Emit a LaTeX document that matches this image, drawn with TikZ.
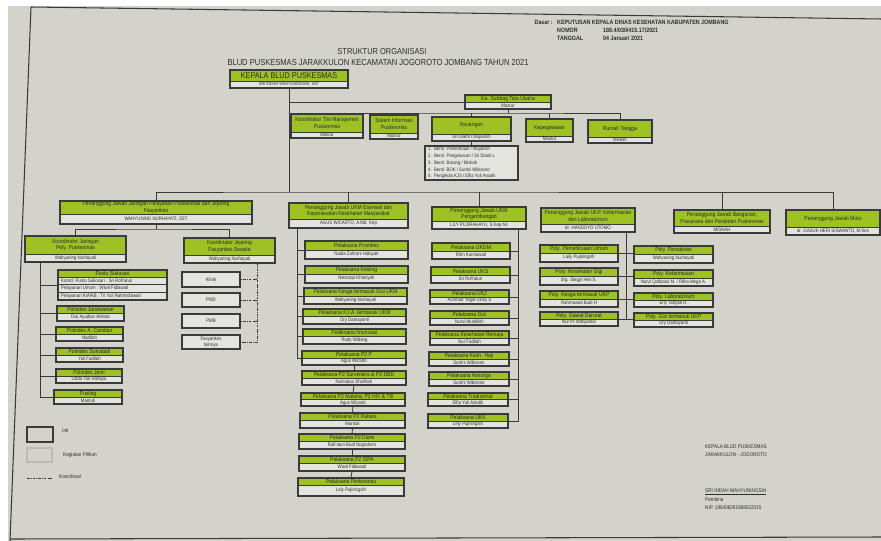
\documentclass[tikz,border=0pt]{standalone}
\usepackage{fontspec}
\setmainfont{Liberation Sans}[FakeStretch=0.86]
\usetikzlibrary{positioning}

\definecolor{paper}{RGB}{211,211,204}
\definecolor{headgreen}{RGB}{158,194,36}
\definecolor{bodywhite}{RGB}{228,228,222}
\definecolor{boxline}{RGB}{58,58,58}
\definecolor{ink}{RGB}{45,45,45}

\tikzset{
  boxframe/.style={draw=boxline, line width=0.9pt, inner sep=0pt, outer sep=0pt},
  headtext/.style={font=\fontsize{5}{5.6}\selectfont, text=ink, align=center, inner sep=0pt},
  bodytext/.style={font=\fontsize{4.3}{5}\selectfont, text=ink, align=center, inner sep=0pt},
  link/.style={draw=boxline, line width=0.7pt},
  koord/.style={draw=boxline, line width=0.7pt, dash pattern=on 2.2pt off 1pt on 0.6pt off 1pt},
  hdrtext/.style={font=\fontsize{5.3}{5.6}\selectfont\bfseries, text=ink, inner sep=0pt, anchor=west},
  signtext/.style={font=\fontsize{4.6}{5}\selectfont, text=ink, inner sep=0pt, anchor=west}
}

% box with green head and white name row
\newcommand{\orgbox}[8]{%
  \fill[bodywhite] (#2,#3) rectangle (#4,#5);
  \fill[headgreen] (#2,#3) rectangle (#4,#6);
  \draw[boxline, line width=0.5pt] (#2,#6) -- (#4,#6);
  \node[boxframe, minimum width={(#4-#2)*0.03cm}, minimum height={(#5-#3)*0.03cm}] (#1) at ({(#2+#4)/2},{(#3+#5)/2}) {};
  \node[headtext] (#1-head) at ({(#2+#4)/2},{(#3+#6)/2}) {#7};
  \node[bodytext] (#1-name) at ({(#2+#4)/2},{(#6+#5)/2}) {#8};
}
% plain white box
\newcommand{\plainbox}[6]{%
  \node[boxframe, fill=bodywhite, minimum width={(#4-#2)*0.03cm}, minimum height={(#5-#3)*0.03cm}, font=\fontsize{4.3}{5}\selectfont, text=ink, align=center] (#1) at ({(#2+#4)/2},{(#3+#5)/2}) {#6};
}

\begin{document}
\begin{tikzpicture}[x=0.03cm, y=-0.03cm]
\useasboundingbox (0,0) rectangle (881,541);
\fill[white] (0,0) rectangle (881,541);
\fill[paper] (8,6) rectangle (881,541);
\draw[boxline, line width=0.9pt] (31,7) -- (10,541); % sheet frame
\draw[boxline, line width=0.9pt] (31,7) -- (881,19);
\draw[boxline, line width=0.9pt] (10,539) -- (881,537);

% header
\node[hdrtext, anchor=east] (dasar) at (553,22) {Dasar :};
\node[hdrtext] (keputusan) at (557,22) {KEPUTUSAN KEPALA DINAS KESEHATAN KABUPATEN JOMBANG};
\node[hdrtext] (nomor) at (557,30) {NOMOR};
\node[hdrtext] (nomorval) at (603,30) {188.4/030/415.17/2021};
\node[hdrtext] (tanggal) at (557,38) {TANGGAL};
\node[hdrtext] (tanggalval) at (603,38) {04 Januari 2021};
\node[font=\fontsize{7.4}{8}\selectfont, text=ink, inner sep=0pt] (title) at (382,52) {STRUKTUR ORGANISASI};
\node[font=\fontsize{7.5}{8}\selectfont, text=ink, inner sep=0pt] (subtitle) at (378,62) {BLUD PUSKESMAS JARAKKULON KECAMATAN JOGOROTO JOMBANG TAHUN 2021};

% top level
\orgbox{kepala}{230}{70}{348}{88}{81}{\fontsize{7.2}{8}\selectfont KEPALA BLUD PUSKESMAS}{\fontsize{3.8}{4}\selectfont SRI INDAH WAHYUNINGSIH, SST}
\orgbox{tu}{465}{95}{551}{109}{102}{Ka. Subbag Tata Usaha}{Masrur}
\orgbox{tim}{291}{114}{363}{138}{132}{Koordinator Tim Manajemen\\Puskesmas}{Masrur}
\orgbox{sip}{370}{115}{418}{139}{133}{Sistem Informasi\\Puskesmas}{Masrur}
\orgbox{keu}{432}{117}{511}{141}{134}{Keuangan}{Sri Dianti / Mujiarsih}
\orgbox{peg}{526}{119}{573}{142}{136}{Kepegawaian}{Masrur}
\orgbox{rt}{588}{120}{652}{143}{137}{Rumah Tangga}{Mistiah}
\plainbox{bend}{425}{146}{518}{180}{}
\node[font=\fontsize{4.2}{5.8}\selectfont, text=ink, align=left, inner sep=0pt, anchor=west] (bendlist) at (428,163) {1.\ \ Bend. Penerimaan / Mujiarsih\\2.\ \ Bend. Pengeluaran / Sri Dianti L\\3.\ \ Bend. Barang / Mistiah\\4.\ \ Bend. BOK / Surtini Wibisono\\5.\ \ Pengelola KJS / Elfia Yuli Astutik};
\coordinate (l2bus) at (289,192);
\draw[link] (kepala.south) -- (l2bus); % main line
\draw[link] (kepala.south |- tu.west) -- (tu.west);
\draw[link] (tu.south) -- ++(0,4) coordinate (tubus);
\draw[link] (tim.north) |- (tubus) -| (rt.north);
\draw[link] (sip.north) -- (sip.north |- tubus);
\draw[link] (keu.north) -- (keu.north |- tubus);
\draw[link] (peg.north) -- (peg.north |- tubus);
\draw[link] (keu.south) -- (bend.north);

% second level
\orgbox{pj1}{60}{201}{252}{224}{214}{Penanggung Jawab Jaringan Pelayanan Puskesmas dan Jejaring\\Fasyankes}{WAHYUNING NURHAYATI, SST}
\orgbox{pj2}{289}{203}{408}{228}{219}{Penanggung Jawab UKM Esensial dan\\Keperawatan Kesehatan Masyarakat}{AGUS WICARTO, A.Md. Kep}
\orgbox{pj3}{432}{207}{526}{229}{221}{Penanggung Jawab UKM\\Pengembangan}{LILY PUJIRAHAYU, S.Kep.Ns}
\orgbox{pj4}{541}{208}{635}{232}{224}{Penanggung Jawab UKP, Kefarmasian\\dan Laboratorium}{dr. HANDOYO UTOMO}
\orgbox{pj5}{674}{210}{770}{233}{226}{Penanggung Jawab Bangunan,\\Prasarana dan Peralatan Puskesmas}{MISNAH}
\orgbox{pj6}{786}{210}{880}{235}{227}{Penanggung Jawab Mutu}{dr. GASUK HERI SISWANTO, M.Kes}
\draw[link] (pj1.north) |- (l2bus) -| (pj6.north);
\draw[link] (pj2.north) -- (pj2.north |- l2bus);
\draw[link] (pj3.north) -- (pj3.north |- l2bus);
\draw[link] (pj5.north) -- (pj5.north |- l2bus);

% jaringan dan jejaring
\orgbox{kjar}{25}{236}{126}{262}{254}{Koordinator Jaringan\\Pely. Puskesmas}{Wahyuning Nurhayati}
\orgbox{kjej}{184}{238}{275}{263}{255}{Koordinator Jejaring\\Fasyankes Swasta}{Wahyuning Nurhayati}
\draw[link] (pj1.south) -- ++(0,5) coordinate (pj1bus);
\draw[link] (kjar.north) |- (pj1bus) -| (kjej.north);
\orgbox{pustu}{58}{270}{167}{300}{277}{Pustu Sukosari}{}
\draw[boxline, line width=0.5pt] (58,284.7) -- (167,284.7);
\draw[boxline, line width=0.5pt] (58,292.3) -- (167,292.3);
\node[bodytext, anchor=west] (pustu-r1) at (61,281) {Koord. Pustu Sukosari : Sri Rofi'atun};
\node[bodytext, anchor=west] (pustu-r2) at (61,288.5) {Pelayanan Umum : Wiwit Fidiawati};
\node[bodytext, anchor=west] (pustu-r3) at (61,296) {Pelayanan KIA/KB : Tri Yuli Rahmidiawati};
\orgbox{pol1}{57}{306}{124}{321}{313}{Polindes Jarakwetan}{Dwi Ayudian Arlesta}
\orgbox{pol2}{56}{327}{123}{341}{334}{Polindes A. Candian}{Nadifah}
\orgbox{pol3}{56}{348}{123}{362}{355}{Polindes Sukodadi}{Yuli Fadilah}
\orgbox{pol4}{56}{369}{122}{383}{376}{Polindes Jenti}{Linda Yuli Rahayu}
\orgbox{pusling}{54}{390}{122}{404}{397}{Pusling}{Mantuti}
\draw[link] (kjar.south west) ++(15,0) coordinate (ltop) |- (pusling.west);
\foreach \b in {pustu,pol1,pol2,pol3,pol4}
  \draw[link] (ltop |- \b.west) -- (\b.west);
\plainbox{klinik}{182}{272}{240}{287}{Klinik}
\plainbox{pmd}{182}{293}{240}{307}{PMD}
\plainbox{pmb}{182}{314}{240}{328}{PMB}
\plainbox{lain}{182}{335}{240}{349}{Fasyankes\\lainnya}
\draw[koord] (kjej.south east) ++(-18,0) coordinate (dtop) |- (lain.east);
\foreach \b in {klinik,pmd,pmb}
  \draw[koord] (dtop |- \b.east) -- (\b.east);

% UKM esensial
\orgbox{promkes}{305}{241}{408}{259}{250}{Pelaksana Promkes}{Nadia Zahrani Hidayati}
\orgbox{kesling}{305}{266}{408}{283}{274}{Pelaksana Kesling}{Nikmatul Khoiriyah}
\orgbox{kesga}{304}{288}{407}{304}{296}{Pelaksana Kesga termasuk Gizi UKM}{Wahyuning Nurhayati}
\orgbox{kia}{303}{309}{406}{324}{316}{Pelaksana K.I.A. termasuk UKM}{Ory Damayanti}
\orgbox{imun}{303}{329}{406}{344}{336}{Pelaksana Imunisasi}{Rudy Widang}
\orgbox{ptp}{302}{351}{406}{365}{358}{Pelaksana P2 P}{Agus Wicarto}
\orgbox{surv}{302}{371}{406}{385}{378}{Pelaksana P2 Surveilans \& P2 DBD}{Nurinatus Sholihah}
\orgbox{mal}{301}{393}{405}{406}{399.5}{Pelaksana P2 Malaria, P2 HIV \& TB}{Agus Wicarto}
\orgbox{rab}{300}{413}{405}{428}{420}{Pelaksana P2 Rabies}{Mantuti}
\orgbox{diare}{299}{434}{405}{449}{441}{Pelaksana P2 Diare}{Rafi'atun Budi Nugraheni}
\orgbox{ispa}{299}{456}{405}{471}{463}{Pelaksana P2 ISPA}{Wiwit Fidiawati}
\orgbox{perkes}{298}{478}{404}{496}{485}{Pelaksana Perkesmas}{Lely Pujiningsih}
\draw[link] (pj2.south west) ++(8,0) coordinate (m1top) |- (ptp.west);
\foreach \b in {promkes,kesling,kesga,kia,imun}
  \draw[link] (m1top |- \b.west) -- (\b.west);
\draw[link] (ptp.south) -- (surv.north);
\draw[link] (surv.south) -- (mal.north);
\draw[link] (mal.south) -- (rab.north);
\draw[link] (rab.south) -- (diare.north);
\draw[link] (diare.south) -- (ispa.north);
\draw[link] (ispa.south) -- (perkes.north);

% UKM pengembangan
\orgbox{ukgm}{432}{243}{510}{259}{251}{Pelaksana UKGM}{Ririn Kurniawati}
\orgbox{uks}{431}{267}{510}{283}{275}{Pelaksana UKS}{Sri Rofi'atun}
\orgbox{ukj}{430}{290}{509}{304}{297}{Pelaksana UKJ}{Achmad Yogie Dicky S}
\orgbox{gizi}{430}{311}{509}{325}{318}{Pelaksana Gizi}{Nurul Mukhlish}
\orgbox{remaja}{430}{331}{509}{345}{338}{Pelaksana Kesehatan Remaja}{Nur Fadilah}
\orgbox{haji}{429}{352}{509}{366}{359}{Pelaksana Kesh. Haji}{Surtini Wibisono}
\orgbox{orga}{429}{372}{509}{386}{379}{Pelaksana Kesorga}{Surtini Wibisono}
\orgbox{trad}{428}{393}{508}{406}{399.5}{Pelaksana Tradisional}{Elfia Yuli Astutik}
\orgbox{ukk}{428}{414}{508}{428}{421}{Pelaksana UKK}{Lely Pujiningsih}
\draw[link] (pj3.south east) ++(-8,0) coordinate (m2top) |- (ukk.east);
\foreach \b in {ukgm,uks,ukj,gizi,remaja,haji,orga,trad}
  \draw[link] (m2top |- \b.east) -- (\b.east);

% UKP
\orgbox{umum}{540}{245}{618}{262}{253}{Poly. Pemeriksaan Umum}{Laily Pujiningsih}
\orgbox{gigi}{540}{268}{618}{285}{276}{Poly. Kesehatan Gigi}{drg. Siegyt Heri S.}
\orgbox{kesgaukp}{540}{291}{618}{307}{299}{Poly. Kesga termasuk UKP}{Rahmawati Budi H}
\orgbox{ugd}{540}{312}{618}{326}{319}{Poly. Gawat Darurat}{Nur'ini Widyastuti}
\orgbox{salin}{634}{246}{713}{263}{254}{Poly. Persalinan}{Wahyuning Nurhayati}
\orgbox{farmasi}{634}{270}{713}{286}{278}{Poly. Kefarmasian}{Nurul Qolbiatul M. / Rifka Mega A.}
\orgbox{lab}{634}{293}{713}{307}{300}{Poly. Laboratorium}{Erly Tahyati R.}
\orgbox{giziukp}{634}{313}{713}{327}{320}{Poly. Gizi termasuk UKP}{Ory Damayanti}
\draw[link] (pj4.south east) ++(-9,0) coordinate (rtop) -- (rtop |- ugd.east);
\draw[link] (umum.east) -- (umum.east -| salin.west);
\draw[link] (gigi.east) -- (gigi.east -| farmasi.west);
\draw[link] (kesgaukp.east) -- (kesgaukp.east -| lab.west);
\draw[link] (ugd.east) -- (ugd.east -| giziukp.west);

% legend
\node[boxframe, minimum width=0.78cm, minimum height=0.45cm] (leginti) at (40,434.5) {};
\node[draw=boxline!35, line width=0.9pt, minimum width=0.75cm, minimum height=0.42cm, inner sep=0pt] (legpilihan) at (39.5,455) {};
\node[signtext] (leginti-txt) at (62,431) {Inti};
\node[signtext] (legpilihan-txt) at (63,455) {Kegiatan Pilihan};
\coordinate (legk1) at (27,478);
\coordinate (legk2) at (52,478);
\draw[koord] (legk1) -- (legk2);
\node[signtext] (legkoord-txt) at (59,477) {Koordinasi};

% signature
\node[signtext] (sign1) at (705,447) {KEPALA BLUD PUSKESMAS};
\node[signtext] (sign2) at (705,455) {JARAKKULON - JOGOROTO};
\node[signtext] (sign3) at (705,492) {\underline{SRI INDAH WAHYUNINGSIH}};
\node[signtext] (sign4) at (705,500) {Pembina};
\node[signtext] (sign5) at (705,508) {NIP. 196408291988032015};
\end{tikzpicture}
\end{document}
